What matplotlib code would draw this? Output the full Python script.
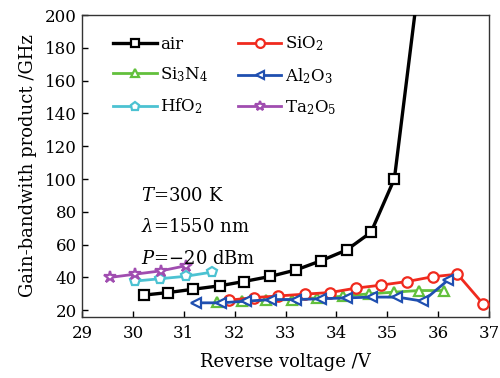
import matplotlib
matplotlib.use("Agg")
import matplotlib.pyplot as plt

plt.rcParams['font.family'] = ['DejaVu Serif']
plt.rcParams['mathtext.fontset'] = 'dejavuserif'

air_x = [30.21, 30.70, 31.19, 31.71, 32.18, 32.70, 33.21, 33.70, 34.20, 34.68, 35.14, 35.62]
air_y = [29.2, 30.8, 32.8, 34.9, 37.5, 40.6, 44.6, 50.2, 56.7, 67.5, 100.1, 220.0]

sio2_x = [31.89, 32.38, 32.86, 33.38, 33.88, 34.39, 34.88, 35.39, 35.89, 36.38, 36.88]
sio2_y = [26.1, 27.7, 28.7, 29.8, 30.8, 33.5, 35.3, 37.5, 40.4, 42.0, 24.0]

si3n4_x = [31.66, 32.14, 32.62, 33.12, 33.62, 34.13, 34.64, 35.13, 35.62, 36.12]
si3n4_y = [25.0, 25.5, 26.0, 26.5, 27.5, 28.5, 30.0, 31.0, 32.0, 32.0]

al2o3_x = [31.24, 31.73, 32.22, 32.72, 33.21, 33.70, 34.20, 34.70, 35.20, 35.70, 36.20]
al2o3_y = [24.5, 24.5, 25.5, 26.5, 26.5, 27.0, 27.5, 28.0, 28.0, 25.5, 38.5]

hfo2_x = [30.05, 30.54, 31.04, 31.55]
hfo2_y = [37.8, 39.2, 40.7, 43.2]

ta2o5_x = [29.55, 30.05, 30.55, 31.04]
ta2o5_y = [40.0, 42.0, 44.0, 47.1]

xticks = [29, 30, 31, 32, 33, 34, 35, 36, 37]
yticks = [20, 40, 60, 80, 100, 120, 140, 160, 180, 200]

fig = plt.figure(figsize=(5, 3.78), dpi=100)
ax = fig.add_axes([0.164, 0.162, 0.814, 0.798])

ms = 7.5
mew = 1.6
h_air, = ax.plot(air_x, air_y, '-s', color='black', lw=2.4, ms=7, mfc='white', mew=mew, label='air', zorder=5)
h_sio2, = ax.plot(sio2_x, sio2_y, '-o', color='#f02a1e', lw=2.0, ms=ms, mfc='white', mew=mew, label='SiO$_2$', zorder=3)
h_si3n4, = ax.plot(si3n4_x, si3n4_y, '-^', color='#62c03c', lw=2.0, ms=ms, mfc='white', mew=mew, label='Si$_3$N$_4$', zorder=2)
h_al2o3, = ax.plot(al2o3_x, al2o3_y, '-<', color='#1f4fb0', lw=2.0, ms=ms, mfc='white', mew=mew, label='Al$_2$O$_3$', zorder=4)
h_hfo2, = ax.plot(hfo2_x, hfo2_y, '-p', color='#4cc2d2', lw=2.0, ms=ms, mfc='white', mew=mew, label='HfO$_2$', zorder=3)
h_ta2o5, = ax.plot(ta2o5_x, ta2o5_y, '-*', color='#a04db0', lw=2.0, ms=9, mfc='white', mew=mew, label='Ta$_2$O$_5$', zorder=3)

ax.set_xlim(29, 37)
ax.set_ylim(16, 200)
ax.set_xticks(xticks)
ax.set_yticks(yticks)
ax.tick_params(direction='in', length=4, width=1, labelsize=12, top=False, right=False)
ax.tick_params(axis='x', pad=6)
for s in ax.spines.values():
    s.set_linewidth(1.0)
    s.set_color('#333333')

ax.set_xlabel('Reverse voltage /V', fontsize=13, labelpad=8)
ax.set_ylabel('Gain-bandwith product /GHz', fontsize=13, labelpad=6)

handles = [h_air, h_si3n4, h_hfo2, h_sio2, h_al2o3, h_ta2o5]
ax.legend(handles=handles, labels=[h.get_label() for h in handles],
          loc='upper left', ncol=2, frameon=False, fontsize=12, handlelength=2.6,
          columnspacing=1.8, labelspacing=0.75, handletextpad=0.2, markerscale=0.85,
          bbox_to_anchor=(0.04, 0.985))

ax.text(30.15, 89.9, '$T$=300 K', fontsize=13, va='center')
ax.text(30.15, 71.0, '$\\lambda$=1550 nm', fontsize=13, va='center')
ax.text(30.15, 51.4, '$P$=\u221220 dBm', fontsize=13, va='center')

fig.savefig('out.png', dpi=100)
